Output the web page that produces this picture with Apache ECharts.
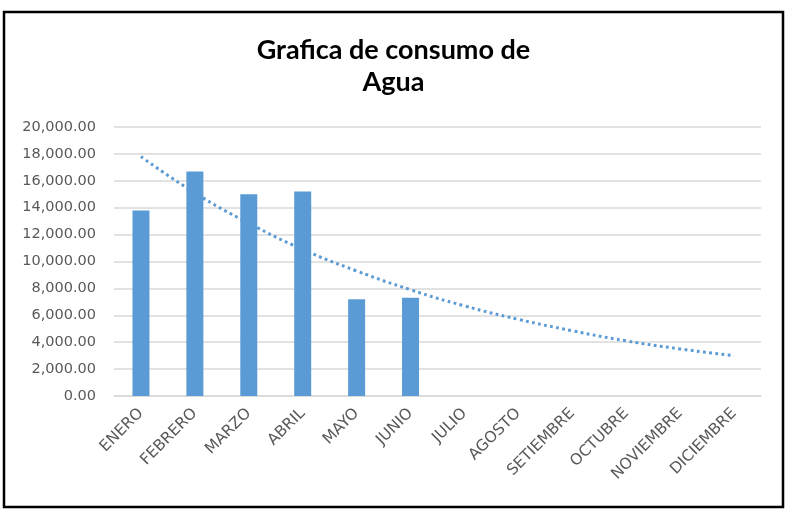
<!DOCTYPE html>
<html>
<head>
<meta charset="utf-8">
<script src="https://cdn.jsdelivr.net/npm/echarts@6/dist/echarts.min.js"></script>
<style>html,body{margin:0;padding:0;background:#fff}#c{width:787px;height:510px}</style>
</head>
<body>
<div id="c"></div>
<script>
const categories = ['ENERO','FEBRERO','MARZO','ABRIL','MAYO','JUNIO','JULIO','AGOSTO','SETIEMBRE','OCTUBRE','NOVIEMBRE','DICIEMBRE'];
const consumo = [13800, 16700, 15000, 15200, 7200, 7300, null, null, null, null, null, null];
const tendencia = [17800, 15100, 12850, 10900, 9300, 7900, 6700, 5700, 4850, 4100, 3500, 3000];
const titleText = 'Grafica de consumo de\nAgua';

const chart = echarts.init(document.getElementById('c'));
const fmt = v => v.toLocaleString('en-US', {minimumFractionDigits: 2, maximumFractionDigits: 2});
chart.setOption({
  animation: false,
  title: {
    text: titleText, left: 'center', top: 29,
    textStyle: {fontFamily: 'Lato', fontWeight: 'bold', fontSize: 27, color: '#000', lineHeight: 32}
  },
  graphic: [{type: 'rect', shape: {x: 4, y: 12, width: 779, height: 495}, style: {fill: 'none', stroke: '#000', lineWidth: 2.5}, silent: true}],
  grid: {left: 114, right: 26, top: 127, bottom: 114, containLabel: false},
  xAxis: {
    type: 'category', data: categories,
    axisLine: {lineStyle: {color: '#d9d9d9', width: 1.5}},
    axisTick: {show: false},
    axisLabel: {rotate: 45, color: '#595959', fontFamily: 'DejaVu Sans', fontSize: 15.5, margin: 15, interval: 0}
  },
  yAxis: {
    type: 'value', min: 0, max: 20000, interval: 2000,
    axisLine: {show: false}, axisTick: {show: false},
    splitLine: {lineStyle: {color: '#d9d9d9', width: 1.5}},
    axisLabel: {formatter: fmt, color: '#595959', fontFamily: 'DejaVu Sans', fontSize: 14.5, margin: 18}
  },
  series: [
    {type: 'bar', data: consumo, barWidth: 17, itemStyle: {color: '#5b9bd5'}},
    {type: 'line', data: tendencia, smooth: true, symbol: 'none', z: 3,
     lineStyle: {color: '#5b9bd5', width: 3, type: [2.8, 3.4], cap: 'butt'}}
  ]
});
</script>
</body>
</html>
